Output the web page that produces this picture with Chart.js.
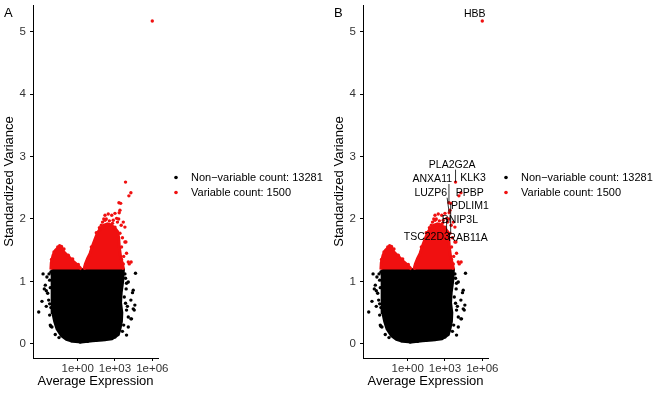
<!DOCTYPE html>
<html>
<head>
<meta charset="utf-8">
<script src="https://cdn.jsdelivr.net/npm/chart.js@4.4.1/dist/chart.umd.min.js"></script>
<style>
html, body { margin: 0; padding: 0; background: #fff; }
#wrap { position: relative; width: 657px; height: 394px; overflow: hidden; }
#chartA { position: absolute; left: 0; top: 0; }
#chartB { position: absolute; left: 330px; top: 0; }
</style>
</head>
<body>
<div id="wrap">
<canvas id="chartA" width="330" height="394"></canvas>
<canvas id="chartB" width="327" height="394"></canvas>
</div>
<script>
// x = log10(average expression), y = standardized variance

// dense black (non-variable) cloud, outline of the solid part
var nonVarCore = [
    [-2.05, 1.19], [3.68, 1.19], [3.62, 1.0], [3.5, 0.82], [3.45, 0.66], [3.55, 0.5],
    [3.52, 0.36], [3.4, 0.24], [3.27, 0.15], [2.75, 0.08], [2.0, 0.06], [1.2, 0.05],
    [0.3, 0.03], [-0.4, 0.04], [-0.9, 0.07], [-1.3, 0.13], [-1.66, 0.24], [-1.85, 0.36],
    [-2.0, 0.5], [-2.05, 0.8], [-2.05, 1.19]
];
// loose black genes around the cloud
var nonVarGenes = [
    [-2.78, 1.12], [-2.6, 0.94], [-2.68, 0.88], [-2.52, 0.85], [-2.41, 0.81], [-2.87, 0.68],
    [-3.13, 0.51], [-2.33, 0.70], [-2.15, 0.58], [-2.25, 0.46], [-2.07, 0.27], [-2.47, 1.07],
    [-2.25, 1.02], [-2.15, 0.28], [-2.25, 0.64], [-2.52, 0.60], [-2.2, 0.30], [-2.3, 1.12],
    [-2.15, 1.15], [-2.2, 0.9], [-1.8, 0.15], [-1.5, 0.10],
    [4.65, 1.13], [4.07, 0.99], [4.47, 0.86], [4.28, 0.70], [4.6, 0.62], [4.55, 0.54],
    [3.93, 0.54], [4.07, 0.43], [4.33, 0.40], [4.07, 0.27], [3.93, 0.14], [3.0, 0.11],
    [3.8, 1.12], [3.75, 0.75], [3.93, 0.97], [4.41, 0.82], [4.47, 0.56], [4.28, 0.4],
    [3.85, 1.05], [3.9, 0.88], [3.7, 0.3], [3.6, 0.2], [4.0, 0.6], [3.85, 0.65],
    [-1.0, 0.10], [-0.5, 0.05], [0.2, 0.03], [0.8, 0.04], [1.5, 0.06], [2.2, 0.07],
    [2.5, 0.09], [-0.1, 0.05], [1.0, 0.07]
];

// dense red (variable) parts, two bumps above the cut-off
var varCoreLeft = [
    [-2.15, 1.19], [-2.12, 1.3], [-1.98, 1.42], [-1.78, 1.5], [-1.55, 1.54], [-1.25, 1.53],
    [-1.1, 1.47], [-0.9, 1.43], [-0.65, 1.38], [-0.35, 1.32], [-0.05, 1.27], [0.2, 1.22],
    [0.3, 1.19]
];
var varCoreRight = [
    [0.5, 1.19], [0.62, 1.28], [0.8, 1.37], [1.0, 1.45], [1.2, 1.57], [1.4, 1.68],
    [1.6, 1.78], [1.85, 1.85], [2.1, 1.9], [2.4, 1.92], [2.7, 1.9], [3.0, 1.85],
    [3.2, 1.8], [3.3, 1.7], [3.35, 1.55], [3.45, 1.4], [3.6, 1.28], [3.7, 1.19]
];
var varGenes = [
    [6.0, 5.17], [3.85, 2.59], [4.28, 2.42], [4.12, 2.37], [3.32, 2.26], [3.46, 2.25],
    [3.4, 2.14], [3.34, 2.10], [3.0, 2.09], [2.74, 2.06], [2.2, 2.06], [2.46, 2.08],
    [3.13, 2.01], [3.67, 1.95], [2.86, 1.98], [3.3, 2.0], [2.6, 1.90], [3.0, 1.87],
    [3.8, 1.87], [3.88, 1.63], [3.93, 1.45], [4.15, 1.28], [4.3, 1.31], [3.67, 1.28],
    [3.4, 1.77], [3.53, 1.55], [3.53, 1.35], [4.07, 1.31], [3.8, 1.63], [3.5, 1.9],
    [3.6, 1.7], [3.2, 1.95], [3.7, 1.4],
    [1.1, 1.55], [1.5, 1.78], [1.75, 1.86], [2.0, 1.95], [2.3, 2.0], [2.55, 1.97],
    [2.8, 1.93], [1.9, 1.9], [2.1, 2.0], [2.2, 1.98],
    [-1.9, 1.47], [-1.45, 1.57], [-1.3, 1.56], [-1.1, 1.52], [-0.75, 1.42], [-0.4, 1.36],
    [0.05, 1.27], [-2.1, 1.35], [-1.6, 1.55]
];

// labelled genes (panel B)
var geneNames = ["HBB", "PLA2G2A", "KLK3", "ANXA11", "LUZP6", "PPBP", "PDLIM1", "BNIP3L", "TSC22D3", "RAB11A"];
var geneExpr = [6.0, 3.85, 4.28, 3.32, 3.34, 4.12, 3.4, 3.0, 3.13, 3.46];
var geneVar = [5.17, 2.59, 2.42, 2.26, 2.10, 2.37, 2.14, 2.09, 2.01, 2.25];
var labelExpr = [5.4, 3.58, 5.26, 1.98, 1.86, 5.0, 5.0, 4.2, 1.54, 4.86];
var labelVar = [5.28, 2.87, 2.66, 2.64, 2.42, 2.42, 2.2, 1.98, 1.71, 1.69];
var labelSegment = [false, true, false, true, true, false, false, false, true, true];

var xTickValues = [0, 3, 6];
var yTickValues = [0, 1, 2, 3, 4, 5];
var xLimits = [-3.59, 6.46];
var yLimits = [-0.227, 5.427];
var legendLabels = ["Non\u2212variable count: 13281", "Variable count: 1500"];
var legendColors = ["#000000", "#f01010"];

var fontFamily = '"Liberation Sans", Arial, Helvetica, sans-serif';
var redColor = "#f01010";

Chart.defaults.font.family = fontFamily;

function to_points(pairs) {
    return pairs.map(function (p) { return { x: p[0], y: p[1] }; });
}

function format_expr_tick(value) {
    var sign = value < 0 ? "-" : "+";
    var exp = String(Math.abs(value));
    if (exp.length < 2) {
        exp = "0" + exp;
    }
    return "1e" + sign + exp;
}

var panelLetterPlugin = {
    id: "panelLetter",
    afterDraw: function (chart, args, opts) {
        var ctx = chart.ctx;
        ctx.save();
        ctx.font = "13px " + fontFamily;
        ctx.fillStyle = "#000";
        ctx.textAlign = "left";
        ctx.textBaseline = "middle";
        ctx.fillText(opts.text, 4, 13);
        ctx.restore();
    }
};

var sideLegendPlugin = {
    id: "sideLegend",
    afterDraw: function (chart) {
        var ctx = chart.ctx;
        var area = chart.chartArea;
        var midY = (area.top + area.bottom) / 2;
        ctx.save();
        ctx.font = "11px " + fontFamily;
        ctx.textAlign = "left";
        ctx.textBaseline = "middle";
        for (var i = 0; i < legendLabels.length; i++) {
            var y = midY - 4 + i * 15;
            ctx.fillStyle = legendColors[i];
            ctx.beginPath();
            ctx.arc(area.right + 18, y, 1.8, 0, Math.PI * 2);
            ctx.fill();
            ctx.fillStyle = "#000";
            ctx.fillText(legendLabels[i], area.right + 33, y);
        }
        ctx.restore();
    }
};

var geneLabelPlugin = {
    id: "geneLabels",
    afterDatasetsDraw: function (chart) {
        var ctx = chart.ctx;
        var xs = chart.scales.x;
        var ys = chart.scales.y;
        ctx.save();
        ctx.font = "10.5px " + fontFamily;
        ctx.textAlign = "center";
        ctx.textBaseline = "middle";
        ctx.fillStyle = "#000";
        ctx.strokeStyle = "#000";
        ctx.lineWidth = 0.8;
        for (var i = 0; i < geneNames.length; i++) {
            var tx = xs.getPixelForValue(labelExpr[i]);
            var ty = ys.getPixelForValue(labelVar[i]);
            if (labelSegment[i]) {
                var px = xs.getPixelForValue(geneExpr[i]);
                var py = ys.getPixelForValue(geneVar[i]);
                var hw = ctx.measureText(geneNames[i]).width / 2;
                var sx = Math.min(Math.max(px, tx - hw), tx + hw);
                var sy = Math.min(Math.max(py, ty - 5), ty + 5);
                ctx.beginPath();
                ctx.moveTo(sx, sy);
                ctx.lineTo(px, py);
                ctx.stroke();
            }
            ctx.fillText(geneNames[i], tx, ty);
        }
        ctx.restore();
    }
};

function get_datasets() {
    return [
        {
            label: "variable",
            data: to_points(varGenes),
            pointRadius: 1.7,
            pointBorderWidth: 0,
            pointBackgroundColor: redColor,
            order: 1
        },
        {
            label: "variable core left",
            data: to_points(varCoreLeft),
            showLine: true,
            fill: "shape",
            tension: 0,
            pointRadius: 0,
            borderColor: redColor,
            backgroundColor: redColor,
            borderWidth: 3,
            order: 2
        },
        {
            label: "variable core right",
            data: to_points(varCoreRight),
            showLine: true,
            fill: "shape",
            tension: 0,
            pointRadius: 0,
            borderColor: redColor,
            backgroundColor: redColor,
            borderWidth: 3,
            order: 2
        },
        {
            label: "non-variable",
            data: to_points(nonVarGenes),
            pointRadius: 1.7,
            pointBorderWidth: 0,
            pointBackgroundColor: "#000",
            order: 3
        },
        {
            label: "non-variable core",
            data: to_points(nonVarCore),
            showLine: true,
            fill: "shape",
            tension: 0,
            pointRadius: 0,
            borderColor: "#000",
            backgroundColor: "#000",
            borderWidth: 3,
            order: 4
        }
    ];
}

function get_scales() {
    return {
        x: {
            type: "linear",
            min: xLimits[0],
            max: xLimits[1],
            afterBuildTicks: function (scale) {
                scale.ticks = xTickValues.map(function (v) { return { value: v }; });
            },
            afterFit: function (scale) {
                scale.height = 36;
                scale.paddingLeft = 0;
                scale.paddingRight = 0;
            },
            ticks: {
                callback: format_expr_tick,
                color: "#333",
                font: { size: 11.5 },
                padding: 1,
                maxRotation: 0,
                autoSkip: false
            },
            grid: { drawOnChartArea: false, drawTicks: true, tickLength: 3, color: "#000" },
            border: { display: true, color: "#000", width: 1 },
            title: {
                display: true,
                text: "Average Expression",
                color: "#000",
                font: { size: 13 },
                padding: { top: 0, bottom: 5 }
            }
        },
        y: {
            type: "linear",
            min: yLimits[0],
            max: yLimits[1],
            afterBuildTicks: function (scale) {
                scale.ticks = yTickValues.map(function (v) { return { value: v }; });
            },
            afterFit: function (scale) {
                scale.width = 33;
                scale.paddingTop = 0;
                scale.paddingBottom = 0;
            },
            ticks: {
                color: "#333",
                font: { size: 11.5 },
                padding: 4
            },
            grid: { drawOnChartArea: false, drawTicks: true, tickLength: 3, color: "#000" },
            border: { display: true, color: "#000", width: 1 },
            title: {
                display: true,
                text: "Standardized Variance",
                color: "#000",
                font: { size: 13 },
                padding: { top: 2, bottom: 0 }
            }
        }
    };
}

function create_variable_feature_plot(canvasId, letter, rightPadding, withLabels) {
    var plugins = [panelLetterPlugin, sideLegendPlugin];
    if (withLabels) {
        plugins.push(geneLabelPlugin);
    }
    return new Chart(canvasId, {
        type: "scatter",
        data: { datasets: get_datasets() },
        options: {
            responsive: false,
            animation: false,
            events: [],
            layout: { padding: { top: 5, right: rightPadding, left: 0, bottom: 0 } },
            scales: get_scales(),
            plugins: {
                legend: { display: false },
                tooltip: { enabled: false },
                panelLetter: { text: letter }
            }
        },
        plugins: plugins
    });
}

var chartA = create_variable_feature_plot("chartA", "A", 172, false);
var chartB = create_variable_feature_plot("chartB", "B", 169, true);
</script>
</body>
</html>
